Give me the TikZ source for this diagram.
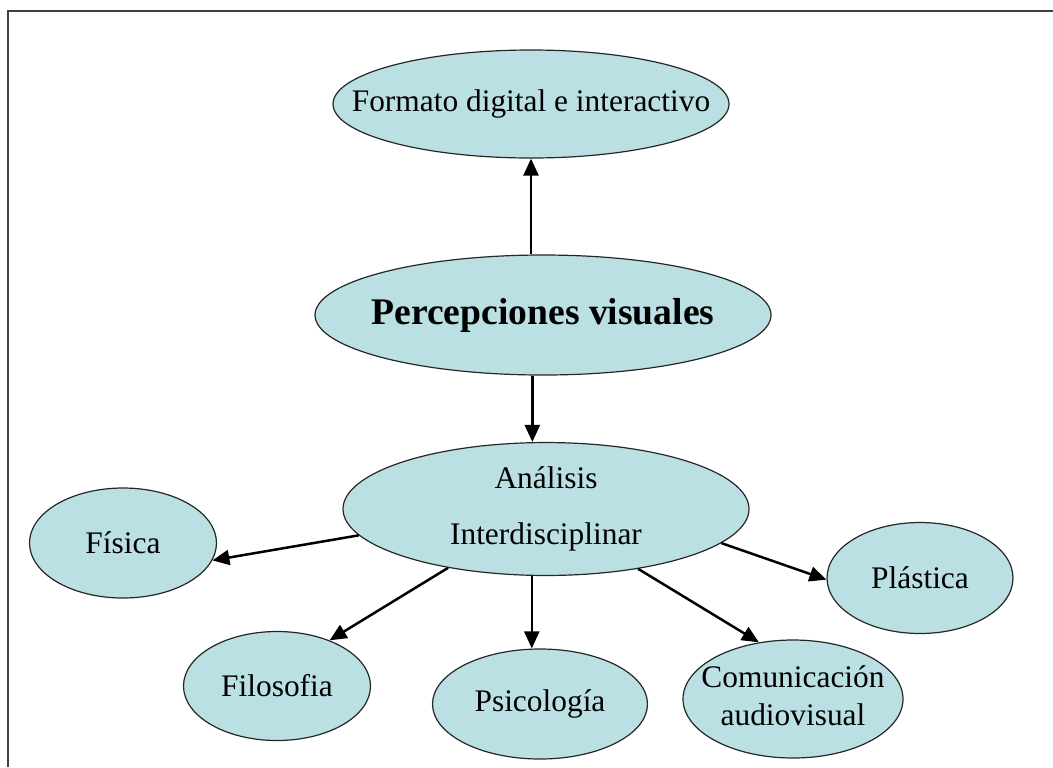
\documentclass[tikz,border=0pt]{standalone}
\usepackage{fontspec}
\setmainfont{Liberation Serif}
\usetikzlibrary{arrows.meta,shapes.geometric}
\definecolor{bubblefill}{RGB}{187,224,227}
\newcommand{\nowide}[1]{\makebox[0pt]{#1}}

\begin{document}
\begin{tikzpicture}[
  x=0.5pt, y=-0.5pt,
  font=\fontsize{15.7}{19}\selectfont,
  bubble/.style={ellipse, draw=black!85, line width=0.6pt, fill=bubblefill,
    inner sep=0pt, align=center},
  arrow/.style={-{Triangle[length=8.5pt,width=7.5pt]}, line width=1.25pt}
]
\useasboundingbox (0,0) rectangle (1053,767);
\draw[line width=1.1pt, black!75] (8,767) -- (8,11) -- (1053,11);
\node[bubble, minimum width=198pt, minimum height=54pt] (fmt) at (531,104)
  {\nowide{Formato digital e interactivo}};
\node[bubble, minimum width=228pt, minimum height=60pt] (per) at (543,315)
  {\nowide{\fontsize{18.8}{22}\selectfont\bfseries Percepciones visuales}};
\node[bubble, minimum width=203pt, minimum height=66pt] (ana) at (546,509)
  {\nowide{\begin{tabular}{@{}c@{}}Análisis\\[9pt]Interdisciplinar\end{tabular}}};
\node[bubble, minimum width=93.5pt, minimum height=55pt] (fis) at (123,543)
  {\nowide{Física}};
\node[bubble, minimum width=93.5pt, minimum height=54.5pt] (fil) at (277,686)
  {\nowide{Filosofia}};
\node[bubble, minimum width=107.5pt, minimum height=55pt] (psi) at (540,704)
  {\nowide{Psicología}};
\node[bubble, minimum width=93pt, minimum height=55.5pt] (pla) at (920,578)
  {\nowide{Plástica}};
\node[bubble, minimum width=110pt, minimum height=59pt] (com) at (793,699)
  {\nowide{\begin{tabular}{@{}c@{}}Comunicación\\audiovisual\end{tabular}}};
\draw[arrow] (fmt.south |- per.north) -- (fmt.south);
\draw[arrow] (per.-100) -- (per.-100 |- ana.north);
\draw[arrow] (ana.188) -- (fis.-11);
\draw[arrow] (ana.-149) -- (fil.41);
\draw[arrow] (ana.-102) -- (ana.-102 |- psi.north);
\draw[arrow] (ana.-33) -- (com.121);
\draw[arrow] (ana.-11) -- (pla.181);
\end{tikzpicture}
\end{document}
